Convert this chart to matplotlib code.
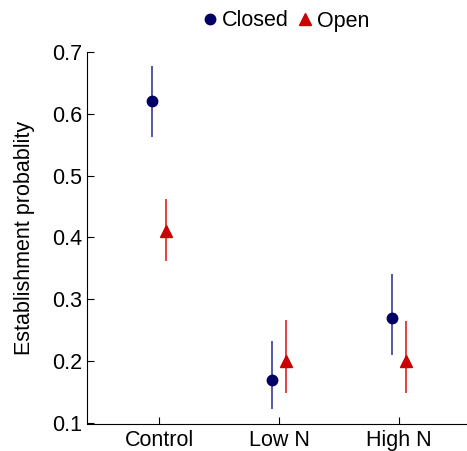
import numpy as np
import matplotlib.pyplot as plt
from matplotlib.lines import Line2D

plt.rcParams['font.family'] = ['Liberation Sans', 'DejaVu Sans']

# data
groups = ['Control', 'Low N', 'High N']
closed_mean = [0.62, 0.17, 0.27]
closed_low = [0.562, 0.123, 0.21]
closed_high = [0.678, 0.232, 0.34]
open_mean = [0.41, 0.20, 0.20]
open_low = [0.362, 0.148, 0.148]
open_high = [0.462, 0.266, 0.265]

x = np.arange(1, len(groups) + 1)
off = 0.055

fig = plt.figure(figsize=(4.67, 4.51), dpi=100)
ax = fig.add_axes([87 / 467, 1 - 424 / 451, 384 / 467, (424 - 52) / 451])

cm = np.array(closed_mean)
om = np.array(open_mean)
ax.errorbar(x - off, cm, yerr=[cm - closed_low, np.array(closed_high) - cm],
            fmt='o', color='#000066', ecolor='#3a3a99', elinewidth=1.2,
            ms=7.5, capsize=0)
ax.errorbar(x + off, om, yerr=[om - open_low, np.array(open_high) - om],
            fmt='^', color='#cc0000', ecolor='#dd2222', elinewidth=1.2,
            ms=8.5, capsize=0)

ax.set_xlim(0.4, 3.6)
ax.set_ylim(0.098, 0.7)
ax.set_xticks(x)
ax.set_xticklabels(groups)
ax.set_yticks([0.1, 0.2, 0.3, 0.4, 0.5, 0.6, 0.7])
ax.tick_params(direction='in', labelsize=15.5, length=5, width=0.8)
ax.tick_params(axis='x', pad=4)
ax.spines['top'].set_visible(False)
ax.spines['right'].set_visible(False)
ax.set_ylabel('Establishment probablity', fontsize=15.5, labelpad=12)

handles = [Line2D([], [], ls='none', marker='o', color='#000066', ms=7.5),
           Line2D([], [], ls='none', marker='^', color='#cc0000', ms=8.5)]
fig.legend(handles, ['Closed', 'Open'], loc='center',
           bbox_to_anchor=(285 / 467, 1 - 21 / 451), ncol=2, frameon=False,
           fontsize=15.5, handletextpad=0.1, columnspacing=0.3,
           handlelength=0.9, borderpad=0.1)

plt.savefig('out.png', dpi=100)
